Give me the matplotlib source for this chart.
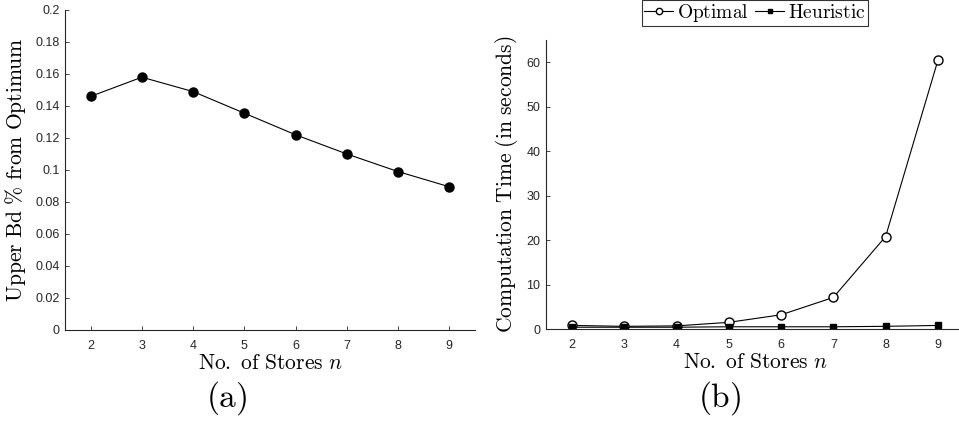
import matplotlib
matplotlib.use("Agg")
import matplotlib.pyplot as plt
from matplotlib.ticker import FormatStrFormatter

plt.rcParams["mathtext.fontset"] = "cm"
plt.rcParams["font.family"] = ["Liberation Sans", "DejaVu Sans"]

stores = [2, 3, 4, 5, 6, 7, 8, 9]
upper_bd = [0.146, 0.158, 0.149, 0.1355, 0.122, 0.110, 0.099, 0.0895]
optimal_time = [0.8, 0.6, 0.7, 1.5, 3.2, 7.1, 20.8, 60.4]
heuristic_time = [0.4, 0.4, 0.4, 0.5, 0.5, 0.5, 0.6, 0.8]

tick_color = "#262626"
label_size = 15.5


def style_axes(ax):
    ax.spines["top"].set_visible(False)
    ax.spines["right"].set_visible(False)
    for side in ("left", "bottom"):
        ax.spines[side].set_linewidth(0.8)
        ax.spines[side].set_color(tick_color)
    ax.tick_params(direction="in", length=3, width=0.6, labelsize=9,
                   labelcolor=tick_color, color=tick_color)
    ax.tick_params(axis="x", pad=7)
    ax.tick_params(axis="y", pad=4)
    ax.set_xlim(1.5, 9.5)
    ax.set_xticks(stores)


fig = plt.figure(figsize=(9.59, 4.21), dpi=100)
W, H = 959, 421

# (a) upper bound gap
ax1 = fig.add_axes([65 / W, 1 - 330 / H, 410 / W, 320 / H])
ax1.plot(stores, upper_bd, color="black", linewidth=0.8, marker="o",
         markersize=6.5, markerfacecolor="black", markeredgecolor="black")
style_axes(ax1)
ax1.set_ylim(0, 0.2)
ax1.set_yticks([0, 0.02, 0.04, 0.06, 0.08, 0.1, 0.12, 0.14, 0.16, 0.18, 0.2])
ax1.yaxis.set_major_formatter(FormatStrFormatter("%g"))
ax1.set_xlabel(r"$\mathrm{No.\ of\ Stores}\ n$", fontsize=label_size, labelpad=1)
ax1.set_ylabel(r"$\mathrm{Upper\ Bd\ \%\ from\ Optimum}$", fontsize=label_size, labelpad=5)
fig.text(227 / W, 1 - 398 / H, r"$\mathrm{(a)}$", fontsize=24, ha="center", va="center")

# (b) computation time
ax2 = fig.add_axes([546 / W, 1 - 329 / H, 418 / W, 289 / H])
ax2.plot(stores, optimal_time, color="black", linewidth=0.8, marker="o",
         markersize=6.5, markerfacecolor="white", markeredgecolor="black",
         label=r"$\mathrm{Optimal}$")
ax2.plot(stores, heuristic_time, color="black", linewidth=0.8, marker="s",
         markersize=5, markerfacecolor="black", markeredgecolor="black",
         label=r"$\mathrm{Heuristic}$")
style_axes(ax2)
ax2.set_ylim(0, 65)
ax2.set_yticks([0, 10, 20, 30, 40, 50, 60])
ax2.set_xlabel(r"$\mathrm{No.\ of\ Stores}\ n$", fontsize=label_size, labelpad=1)
ax2.set_ylabel(r"$\mathrm{Computation\ Time\ (in\ seconds)}$", fontsize=label_size, labelpad=5)
fig.text(720 / W, 1 - 398 / H, r"$\mathrm{(b)}$", fontsize=24, ha="center", va="center")

leg = fig.legend(loc="center", bbox_to_anchor=(755 / W, 1 - 13 / H), ncol=2,
                 fontsize=14, frameon=True, fancybox=False, edgecolor="black",
                 handlelength=1.5, handletextpad=0.2, columnspacing=0.3,
                 borderpad=0.1, borderaxespad=0, markerscale=0.7)
leg.get_frame().set_linewidth(0.8)

fig.savefig("out.png", dpi=100)
